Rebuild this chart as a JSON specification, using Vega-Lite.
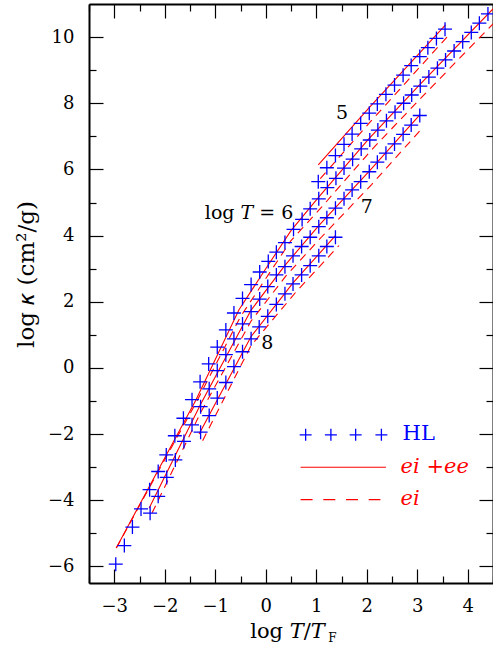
{
  "$schema": "https://vega.github.io/schema/vega-lite/v6.json",
  "width": 404,
  "height": 579,
  "autosize": {"type": "none"},
  "padding": {"left": 89, "top": 4, "right": 0, "bottom": 62},
  "background": "white",
  "view": {"stroke": null},
  "datasets": {
    "hl": [
      {"T": 6, "x": -2.97, "y": -5.93}, {"T": 6, "x": -2.80, "y": -5.37}, {"T": 6, "x": -2.64, "y": -4.81}, {"T": 6, "x": -2.47, "y": -4.26}, {"T": 6, "x": -2.30, "y": -3.68},
      {"T": 6, "x": -2.13, "y": -3.13}, {"T": 6, "x": -1.97, "y": -2.63}, {"T": 6, "x": -1.80, "y": -2.05}, {"T": 6, "x": -1.63, "y": -1.52}, {"T": 6, "x": -1.46, "y": -0.96},
      {"T": 6, "x": -1.30, "y": -0.42}, {"T": 6, "x": -1.13, "y": 0.12}, {"T": 6, "x": -0.96, "y": 0.63}, {"T": 6, "x": -0.79, "y": 1.15}, {"T": 6, "x": -0.63, "y": 1.66},
      {"T": 6, "x": -0.46, "y": 2.10}, {"T": 6, "x": -0.29, "y": 2.52}, {"T": 6, "x": -0.12, "y": 2.90}, {"T": 6, "x": 0.05, "y": 3.22}, {"T": 6, "x": 0.21, "y": 3.50},
      {"T": 6, "x": 0.38, "y": 3.79}, {"T": 6, "x": 0.55, "y": 4.19}, {"T": 6, "x": 0.72, "y": 4.49}, {"T": 6, "x": 0.88, "y": 4.81}, {"T": 6, "x": 1.05, "y": 5.11},
      {"T": 6, "x": 1.22, "y": 5.45}, {"T": 6, "x": 1.39, "y": 5.73}, {"T": 6, "x": 1.55, "y": 6.04}, {"T": 6, "x": 1.72, "y": 6.31}, {"T": 6, "x": 1.89, "y": 6.62},
      {"T": 6, "x": 2.06, "y": 6.89}, {"T": 6, "x": 2.22, "y": 7.19}, {"T": 6, "x": 2.39, "y": 7.47}, {"T": 6, "x": 2.56, "y": 7.73}, {"T": 6, "x": 2.73, "y": 8.00},
      {"T": 6, "x": 2.89, "y": 8.25}, {"T": 6, "x": 3.06, "y": 8.52}, {"T": 6, "x": 3.23, "y": 8.79}, {"T": 6, "x": 3.40, "y": 9.06}, {"T": 6, "x": 3.56, "y": 9.31},
      {"T": 6, "x": 3.73, "y": 9.58}, {"T": 6, "x": 3.90, "y": 9.86}, {"T": 6, "x": 4.07, "y": 10.14}, {"T": 6, "x": 4.23, "y": 10.42}, {"T": 6, "x": 4.40, "y": 10.70},
      {"T": 7, "x": -2.29, "y": -4.39}, {"T": 7, "x": -2.13, "y": -3.88}, {"T": 7, "x": -1.96, "y": -3.31}, {"T": 7, "x": -1.79, "y": -2.78}, {"T": 7, "x": -1.62, "y": -2.22},
      {"T": 7, "x": -1.46, "y": -1.72}, {"T": 7, "x": -1.29, "y": -1.17}, {"T": 7, "x": -1.12, "y": -0.63}, {"T": 7, "x": -0.96, "y": -0.08}, {"T": 7, "x": -0.79, "y": 0.40},
      {"T": 7, "x": -0.63, "y": 0.88}, {"T": 7, "x": -0.46, "y": 1.33}, {"T": 7, "x": -0.29, "y": 1.70}, {"T": 7, "x": -0.12, "y": 2.08}, {"T": 7, "x": 0.04, "y": 2.46},
      {"T": 7, "x": 0.21, "y": 2.81}, {"T": 7, "x": 0.38, "y": 3.06}, {"T": 7, "x": 0.54, "y": 3.39}, {"T": 7, "x": 0.71, "y": 3.67}, {"T": 7, "x": 0.88, "y": 3.95},
      {"T": 7, "x": 1.05, "y": 4.27}, {"T": 7, "x": 1.21, "y": 4.54}, {"T": 7, "x": 1.38, "y": 4.83}, {"T": 7, "x": 1.55, "y": 5.11}, {"T": 7, "x": 1.71, "y": 5.38},
      {"T": 7, "x": 1.88, "y": 5.63}, {"T": 7, "x": 2.05, "y": 5.93}, {"T": 7, "x": 2.21, "y": 6.22}, {"T": 7, "x": 2.38, "y": 6.49}, {"T": 7, "x": 2.55, "y": 6.77},
      {"T": 7, "x": 2.72, "y": 7.06}, {"T": 7, "x": 2.88, "y": 7.34}, {"T": 7, "x": 3.05, "y": 7.63},
      {"T": 8, "x": -1.29, "y": -1.94}, {"T": 8, "x": -1.12, "y": -1.44}, {"T": 8, "x": -0.96, "y": -0.91}, {"T": 8, "x": -0.79, "y": -0.44}, {"T": 8, "x": -0.63, "y": 0.04},
      {"T": 8, "x": -0.46, "y": 0.49}, {"T": 8, "x": -0.29, "y": 0.88}, {"T": 8, "x": -0.13, "y": 1.24}, {"T": 8, "x": 0.04, "y": 1.56}, {"T": 8, "x": 0.21, "y": 1.92},
      {"T": 8, "x": 0.38, "y": 2.24}, {"T": 8, "x": 0.54, "y": 2.54}, {"T": 8, "x": 0.71, "y": 2.81}, {"T": 8, "x": 0.88, "y": 3.09}, {"T": 8, "x": 1.05, "y": 3.39},
      {"T": 8, "x": 1.21, "y": 3.67}, {"T": 8, "x": 1.38, "y": 3.95},
      {"T": 5, "x": 1.04, "y": 5.63}, {"T": 5, "x": 1.21, "y": 6.05}, {"T": 5, "x": 1.38, "y": 6.42}, {"T": 5, "x": 1.55, "y": 6.76}, {"T": 5, "x": 1.71, "y": 7.07},
      {"T": 5, "x": 1.88, "y": 7.39}, {"T": 5, "x": 2.05, "y": 7.70}, {"T": 5, "x": 2.21, "y": 7.98}, {"T": 5, "x": 2.38, "y": 8.27}, {"T": 5, "x": 2.55, "y": 8.55},
      {"T": 5, "x": 2.72, "y": 8.85}, {"T": 5, "x": 2.88, "y": 9.14}, {"T": 5, "x": 3.05, "y": 9.41}, {"T": 5, "x": 3.21, "y": 9.68}, {"T": 5, "x": 3.38, "y": 9.96},
      {"T": 5, "x": 3.55, "y": 10.24}
    ],
    "lines": [
      {"T": 5, "kind": "ei+ee", "x": 1.04, "y": 6.14}, {"T": 5, "kind": "ei+ee", "x": 2.04, "y": 7.85}, {"T": 5, "kind": "ei+ee", "x": 3.56, "y": 10.37},
      {"T": 5, "kind": "ei", "x": 1.08, "y": 5.72}, {"T": 5, "kind": "ei", "x": 2.06, "y": 7.42}, {"T": 5, "kind": "ei", "x": 3.6, "y": 10.02},
      {"T": 6, "kind": "ei+ee", "x": -2.96, "y": -5.44}, {"T": 6, "kind": "ei+ee", "x": -1.38, "y": -0.96}, {"T": 6, "kind": "ei+ee", "x": -0.53, "y": 1.76},
      {"T": 6, "kind": "ei+ee", "x": 0.0, "y": 3.0}, {"T": 6, "kind": "ei+ee", "x": 0.5, "y": 4.15}, {"T": 6, "kind": "ei+ee", "x": 1.04, "y": 5.15},
      {"T": 6, "kind": "ei+ee", "x": 2.04, "y": 6.92}, {"T": 6, "kind": "ei+ee", "x": 3.05, "y": 8.56}, {"T": 6, "kind": "ei+ee", "x": 4.5, "y": 10.85},
      {"T": 6, "kind": "ei", "x": -2.96, "y": -5.44}, {"T": 6, "kind": "ei", "x": -1.38, "y": -1.05}, {"T": 6, "kind": "ei", "x": -0.5, "y": 1.55},
      {"T": 6, "kind": "ei", "x": 0.5, "y": 3.85}, {"T": 6, "kind": "ei", "x": 1.1, "y": 4.85}, {"T": 6, "kind": "ei", "x": 2.1, "y": 6.6},
      {"T": 6, "kind": "ei", "x": 3.1, "y": 8.2}, {"T": 6, "kind": "ei", "x": 4.5, "y": 10.4},
      {"T": 7, "kind": "ei+ee", "x": -2.31, "y": -4.24}, {"T": 7, "kind": "ei+ee", "x": -1.29, "y": -1.1}, {"T": 7, "kind": "ei+ee", "x": -0.29, "y": 1.75},
      {"T": 7, "kind": "ei+ee", "x": 0.38, "y": 3.1}, {"T": 7, "kind": "ei+ee", "x": 1.05, "y": 4.3}, {"T": 7, "kind": "ei+ee", "x": 2.05, "y": 5.95},
      {"T": 7, "kind": "ei+ee", "x": 3.05, "y": 7.65},
      {"T": 7, "kind": "ei", "x": -2.25, "y": -4.38}, {"T": 7, "kind": "ei", "x": -1.29, "y": -1.35}, {"T": 7, "kind": "ei", "x": -0.29, "y": 1.42},
      {"T": 7, "kind": "ei", "x": 0.4, "y": 2.78}, {"T": 7, "kind": "ei", "x": 1.1, "y": 3.95}, {"T": 7, "kind": "ei", "x": 2.1, "y": 5.55},
      {"T": 7, "kind": "ei", "x": 3.1, "y": 7.25},
      {"T": 8, "kind": "ei+ee", "x": -1.32, "y": -2.0}, {"T": 8, "kind": "ei+ee", "x": -0.29, "y": 0.95}, {"T": 8, "kind": "ei+ee", "x": 0.54, "y": 2.57},
      {"T": 8, "kind": "ei+ee", "x": 1.38, "y": 4.0},
      {"T": 8, "kind": "ei", "x": -1.25, "y": -2.2}, {"T": 8, "kind": "ei", "x": -0.29, "y": 0.68}, {"T": 8, "kind": "ei", "x": 0.6, "y": 2.3},
      {"T": 8, "kind": "ei", "x": 1.45, "y": 3.7}
    ],
    "labels": [
      {"x": 1.51, "y": 7.7, "text": "5"},
      {"x": 2.0, "y": 4.86, "text": "7"},
      {"x": 0.03, "y": 0.76, "text": "8"},
      {"x": -0.33, "y": 4.67, "text": "log 𝑇 = 6"}
    ],
    "legpts": [
      {"x": 0.79, "y": -2.02}, {"x": 1.29, "y": -2.02}, {"x": 1.78, "y": -2.02}, {"x": 2.29, "y": -2.02}
    ],
    "leglines": [
      {"kind": "ei+ee", "x": 0.69, "y": -3.0}, {"kind": "ei+ee", "x": 2.38, "y": -3.0},
      {"kind": "ei", "x": 0.69, "y": -3.98}, {"kind": "ei", "x": 2.27, "y": -3.98}
    ],
    "legtext": [
      {"x": 2.71, "y": -2.0, "text": "HL"},
      {"x": 2.67, "y": -2.98, "text": "ei +ee"},
      {"x": 2.67, "y": -3.96, "text": "ei"}
    ],
    "sub": [{"x": 1.32, "y": -8.15, "text": "F"}]
  },
  "resolve": {"axis": {"x": "independent", "y": "independent"}},
  "layer": [
    {
      "encoding": {
        "x": {
          "field": "x", "type": "quantitative",
          "scale": {"domain": [-3.5, 4.5], "nice": false, "zero": false},
          "axis": {
            "orient": "bottom",
            "values": [-3.5, -3, -2.5, -2, -1.5, -1, -0.5, 0, 0.5, 1, 1.5, 2, 2.5, 3, 3.5, 4, 4.5],
            "tickSize": {"condition": {"test": "datum.value % 1 === 0", "value": -14}, "value": -7},
            "tickColor": "black", "tickWidth": 1.2,
            "domainColor": "black", "domainWidth": 2,
            "labelExpr": "datum.value % 1 === 0 ? format(datum.value, 'd') : ''",
            "labelFont": "DejaVu Serif", "labelFontSize": 18, "labelColor": "black",
            "labelPadding": 28, "labelFlush": false, "labelOverlap": false,
            "grid": false,
            "title": "log  𝑇/𝑇",
            "titleFont": "DejaVu Serif", "titleFontSize": 21, "titleFontWeight": "normal", "titleColor": "black",
            "titleX": 198, "titleY": 54, "titleBaseline": "alphabetic", "titleAlign": "center"
          }
        },
        "y": {
          "field": "y", "type": "quantitative",
          "scale": {"domain": [-6.5, 11], "nice": false, "zero": false},
          "axis": {
            "orient": "left",
            "values": [-6, -5, -4, -3, -2, -1, 0, 1, 2, 3, 4, 5, 6, 7, 8, 9, 10],
            "tickSize": {"condition": {"test": "datum.value % 2 === 0", "value": -14}, "value": -7},
            "tickColor": "black", "tickWidth": 1.2,
            "domainColor": "black", "domainWidth": 2,
            "labelExpr": "datum.value % 2 === 0 ? datum.label : ''",
            "labelFont": "DejaVu Serif", "labelFontSize": 18, "labelColor": "black",
            "labelPadding": 29, "labelFlush": false, "labelOverlap": false,
            "grid": false,
            "title": "log 𝜅  (cm²/g)",
            "titleFont": "DejaVu Serif", "titleFontSize": 23, "titleFontWeight": "normal", "titleColor": "black",
            "titleX": -63, "titleY": 270, "titleBaseline": "middle", "titleAlign": "center", "titleAngle": -90
          }
        }
      },
      "layer": [
        {
          "data": {"name": "lines"},
          "transform": [{"filter": "datum.kind === 'ei+ee'"}],
          "mark": {"type": "line", "color": "#ff0000", "strokeWidth": 1.1},
          "encoding": {"detail": {"field": "T", "type": "nominal"}}
        },
        {
          "data": {"name": "lines"},
          "transform": [{"filter": "datum.kind === 'ei'"}],
          "mark": {"type": "line", "color": "#ff0000", "strokeWidth": 1.1, "strokeDash": [8, 6]},
          "encoding": {"detail": {"field": "T", "type": "nominal"}}
        },
        {
          "data": {"name": "hl"},
          "mark": {"type": "point", "shape": "M-1,0H1M0,-1V1", "size": 196, "filled": false, "stroke": "#0000ff", "strokeWidth": 1.3, "opacity": 1}
        },
        {
          "data": {"name": "labels"},
          "mark": {"type": "text", "font": "DejaVu Serif", "fontSize": 19, "color": "black", "align": "center", "baseline": "middle"},
          "encoding": {"text": {"field": "text"}}
        },
        {
          "data": {"name": "legpts"},
          "mark": {"type": "point", "shape": "M-1,0H1M0,-1V1", "size": 144, "filled": false, "stroke": "#0000ff", "strokeWidth": 1.3, "opacity": 1}
        },
        {
          "data": {"name": "leglines"},
          "transform": [{"filter": "datum.kind === 'ei+ee'"}],
          "mark": {"type": "line", "color": "#ff0000", "strokeWidth": 1.1}
        },
        {
          "data": {"name": "leglines"},
          "transform": [{"filter": "datum.kind === 'ei'"}],
          "mark": {"type": "line", "color": "#ff0000", "strokeWidth": 1.1, "strokeDash": [12, 10.7]}
        },
        {
          "data": {"name": "legtext"},
          "transform": [{"filter": "datum.text === 'HL'"}],
          "mark": {"type": "text", "font": "DejaVu Serif", "fontSize": 21, "color": "#0000ff", "align": "left", "baseline": "middle"},
          "encoding": {"text": {"field": "text"}}
        },
        {
          "data": {"name": "legtext"},
          "transform": [{"filter": "datum.text !== 'HL'"}],
          "mark": {"type": "text", "font": "DejaVu Serif", "fontStyle": "italic", "fontSize": 21, "color": "#ff0000", "align": "left", "baseline": "middle"},
          "encoding": {"text": {"field": "text"}}
        },
        {
          "data": {"name": "sub"},
          "mark": {"type": "text", "font": "DejaVu Serif", "fontSize": 12, "color": "black", "align": "center", "baseline": "middle"},
          "encoding": {"text": {"field": "text"}}
        }
      ]
    },
    {
      "data": {"name": "legpts"},
      "mark": {"type": "point", "opacity": 0},
      "encoding": {
        "x": {
          "field": "x", "type": "quantitative",
          "axis": {
            "orient": "top",
            "values": [-3.5, -3, -2.5, -2, -1.5, -1, -0.5, 0, 0.5, 1, 1.5, 2, 2.5, 3, 3.5, 4, 4.5],
            "tickSize": {"condition": {"test": "datum.value % 1 === 0", "value": -14}, "value": -7},
            "tickColor": "black", "tickWidth": 1.2,
            "domainColor": "black", "domainWidth": 2,
            "labels": false, "grid": false, "title": null
          }
        },
        "y": {
          "field": "y", "type": "quantitative",
          "axis": {
            "orient": "right",
            "values": [-6, -5, -4, -3, -2, -1, 0, 1, 2, 3, 4, 5, 6, 7, 8, 9, 10],
            "tickSize": {"condition": {"test": "datum.value % 2 === 0", "value": -14}, "value": -7},
            "tickColor": "black", "tickWidth": 1.2,
            "domainColor": "black", "domainWidth": 2,
            "labels": false, "grid": false, "title": null
          }
        }
      }
    }
  ]
}
